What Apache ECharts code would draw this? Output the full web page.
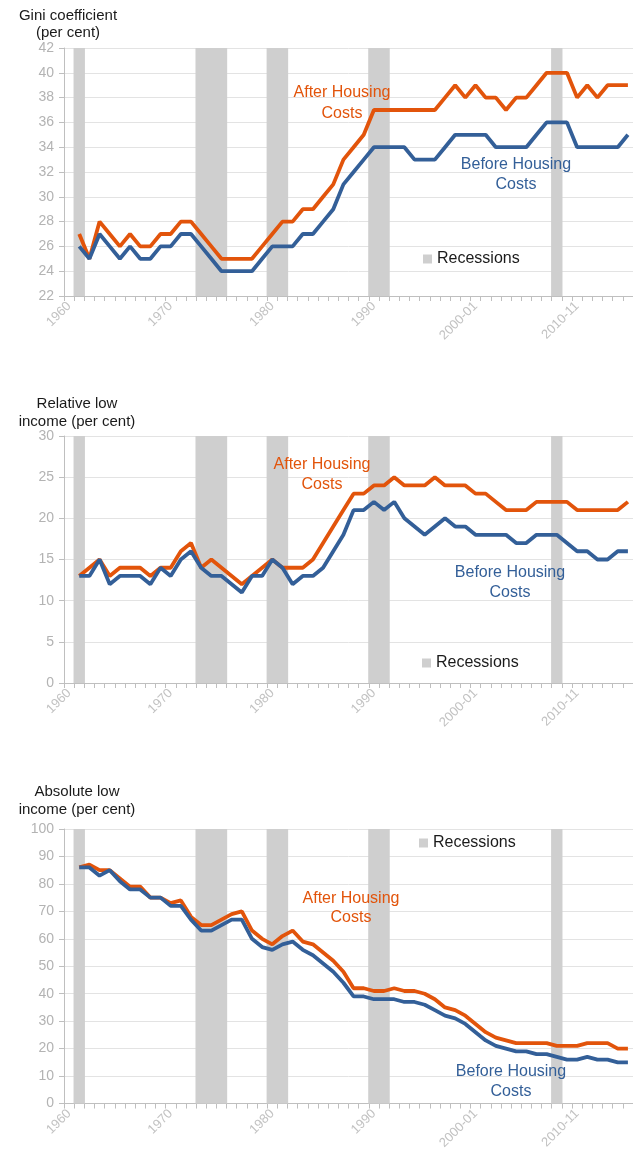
<!DOCTYPE html>
<html>
<head>
<meta charset="utf-8">
<script src="https://cdn.jsdelivr.net/npm/echarts@6/dist/echarts.min.js"></script>
<style>
html,body{margin:0;padding:0;background:#fff;overflow:hidden;}
#c{width:633px;height:1152px;}
</style>
</head>
<body>
<div id="c"></div>
<script>
const categories = ['1960','1961','1962','1963','1964','1965','1966','1967','1968','1969',
'1970','1971','1972','1973','1974','1975','1976','1977','1978','1979',
'1980','1981','1982','1983','1984','1985','1986','1987','1988','1989',
'1990','1991','1992-93','1993-94','1994-95','1995-96','1996-97','1997-98','1998-99','1999-00',
'2000-01','2001-02','2002-03','2003-04','2004-05','2005-06','2006-07','2007-08','2008-09','2009-10',
'2010-11','2011-12','2012-13','2013-14','2014-15','2015-16'];

const recessions = ['1961','1973','1974','1975','1980','1981','1990','1991','2008-09'];

const giniAHC = [null,27,25,28,27,26,27,26,26,27, 27,28,28,27,26,25,25,25,25,26, 27,28,28,29,29,30,31,33,34,35, 37,37,37,37,37,37,37,38,39,38, 39,38,38,37,38,38,39,40,40,40, 38,39,38,39,39,39];
const giniBHC = [null,26,25,27,26,25,26,25,25,26, 26,27,27,26,25,24,24,24,24,25, 26,26,26,27,27,28,29,31,32,33, 34,34,34,34,33,33,33,34,35,35, 35,35,34,34,34,34,35,36,36,36, 34,34,34,34,34,35];

const relAHC = [null,13,14,15,13,14,14,14,13,14, 14,16,17,14,15,14,13,12,13,14, 15,14,14,14,15,17,19,21,23,23, 24,24,25,24,24,24,25,24,24,24, 23,23,22,21,21,21,22,22,22,22, 21,21,21,21,21,22];
const relBHC = [null,13,13,15,12,13,13,13,12,14, 13,15,16,14,13,13,12,11,13,13, 15,14,12,13,13,14,16,18,21,21, 22,21,22,20,19,18,19,20,19,19, 18,18,18,18,17,17,18,18,18,17, 16,16,15,15,16,16];

const absAHC = [null,86,87,85,85,82,79,79,75,75, 73,74,68,65,65,67,69,70,63,60, 58,61,63,59,58,55,52,48,42,42, 41,41,42,41,41,40,38,35,34,32, 29,26,24,23,22,22,22,22,21,21, 21,22,22,22,20,20];
const absBHC = [null,86,86,83,85,81,78,78,75,75, 72,72,67,63,63,65,67,67,60,57, 56,58,59,56,54,51,48,44,39,39, 38,38,38,37,37,36,34,32,31,29, 26,23,21,20,19,19,18,18,17,16, 16,17,16,16,15,15];

const titles = [['Gini coefficient','(per cent)'],['Relative low','income (per cent)'],['Absolute low','income (per cent)']];
const yRanges = [[22,42,2],[0,30,5],[0,100,10]];
const ahcSeries = [giniAHC, relAHC, absAHC];
const bhcSeries = [giniBHC, relBHC, absBHC];

const ORANGE = '#E2540B';
const BLUE = '#335F98';
const FONT = 'Liberation Sans, Arial, sans-serif';

const grids = [
  {left:64, width:577, top:48, height:248},
  {left:64, width:577, top:436, height:247},
  {left:64, width:577, top:829, height:275}
];

const xAxes = [], yAxes = [], series = [];
for (let i = 0; i < 3; i++) {
  xAxes.push({
    type:'category', gridIndex:i, data:categories, boundaryGap:true,
    axisLine:{show:true, lineStyle:{color:'#bfbfbf', width:1}},
    axisTick:{show:true, interval:0, length:5, lineStyle:{color:'#bfbfbf'}},
    axisLabel:{interval:9, rotate:45, color:'#c2c2c2', fontSize:13, margin:8, fontFamily:FONT},
    splitLine:{show:false}
  });
  yAxes.push({
    type:'value', gridIndex:i, min:yRanges[i][0], max:yRanges[i][1], interval:yRanges[i][2],
    axisLine:{show:true, lineStyle:{color:'#bfbfbf'}},
    axisTick:{show:true, length:5, lineStyle:{color:'#bfbfbf'}},
    axisLabel:{color:'#b3b3b3', fontSize:14, margin:10, fontFamily:FONT},
    splitLine:{show:true, lineStyle:{color:'#e3e3e3', width:1}}
  });
  series.push({
    name:'Recessions', type:'bar', xAxisIndex:i, yAxisIndex:i,
    barWidth:'112%', barGap:'-100%', silent:true, clip:true, z:1,
    itemStyle:{color:'#cfcfcf', borderWidth:0},
    data: categories.map(c => recessions.includes(c) ? yRanges[i][1] : '-')
  });
  series.push({
    name:'After Housing Costs', type:'line', xAxisIndex:i, yAxisIndex:i,
    symbol:'none', z:3, lineStyle:{color:ORANGE, width:3.8}, itemStyle:{color:ORANGE},
    data: ahcSeries[i].map(v => v === null ? '-' : v)
  });
  series.push({
    name:'Before Housing Costs', type:'line', xAxisIndex:i, yAxisIndex:i,
    symbol:'none', z:3, lineStyle:{color:BLUE, width:3.8}, itemStyle:{color:BLUE},
    data: bhcSeries[i].map(v => v === null ? '-' : v)
  });
}

const legendPos = [[423,251],[422,655],[419,835]];
const legends = legendPos.map(p => ({
  data:['Recessions'], left:p[0], top:p[1], padding:0, icon:'rect',
  itemWidth:9, itemHeight:9, itemGap:5, selectedMode:false,
  textStyle:{fontSize:16, color:'#1a1a1a', fontFamily:FONT}
}));

function txt(x, y, s, color, size) {
  return {type:'text', z:100, zlevel:0, x:x, y:y, style:{text:s, x:0, y:0, fill:color, font:size+'px '+FONT, textAlign:'center', textVerticalAlign:'middle'}};
}
const graphic = {elements:[
  txt(68,16,titles[0][0],'#1a1a1a',15), txt(68,33,titles[0][1],'#1a1a1a',15),
  txt(77,404,titles[1][0],'#1a1a1a',15), txt(77,422,titles[1][1],'#1a1a1a',15),
  txt(77,792,titles[2][0],'#1a1a1a',15), txt(77,810,titles[2][1],'#1a1a1a',15),
  txt(342,93,'After Housing',ORANGE,16), txt(342,114,'Costs',ORANGE,16),
  txt(516,165,'Before Housing',BLUE,16), txt(516,185,'Costs',BLUE,16),
  txt(322,465,'After Housing',ORANGE,16), txt(322,485,'Costs',ORANGE,16),
  txt(510,573,'Before Housing',BLUE,16), txt(510,593,'Costs',BLUE,16),
  txt(351,899,'After Housing',ORANGE,16), txt(351,918,'Costs',ORANGE,16),
  txt(511,1072,'Before Housing',BLUE,16), txt(511,1092,'Costs',BLUE,16)
]};

const chart = echarts.init(document.getElementById('c'), null, {renderer:'canvas'});
chart.setOption({
  animation:false,
  backgroundColor:'#ffffff',
  textStyle:{fontFamily:FONT},
  grid:grids, xAxis:xAxes, yAxis:yAxes, series:series,
  legend:legends, graphic:graphic
});
</script>
</body>
</html>
